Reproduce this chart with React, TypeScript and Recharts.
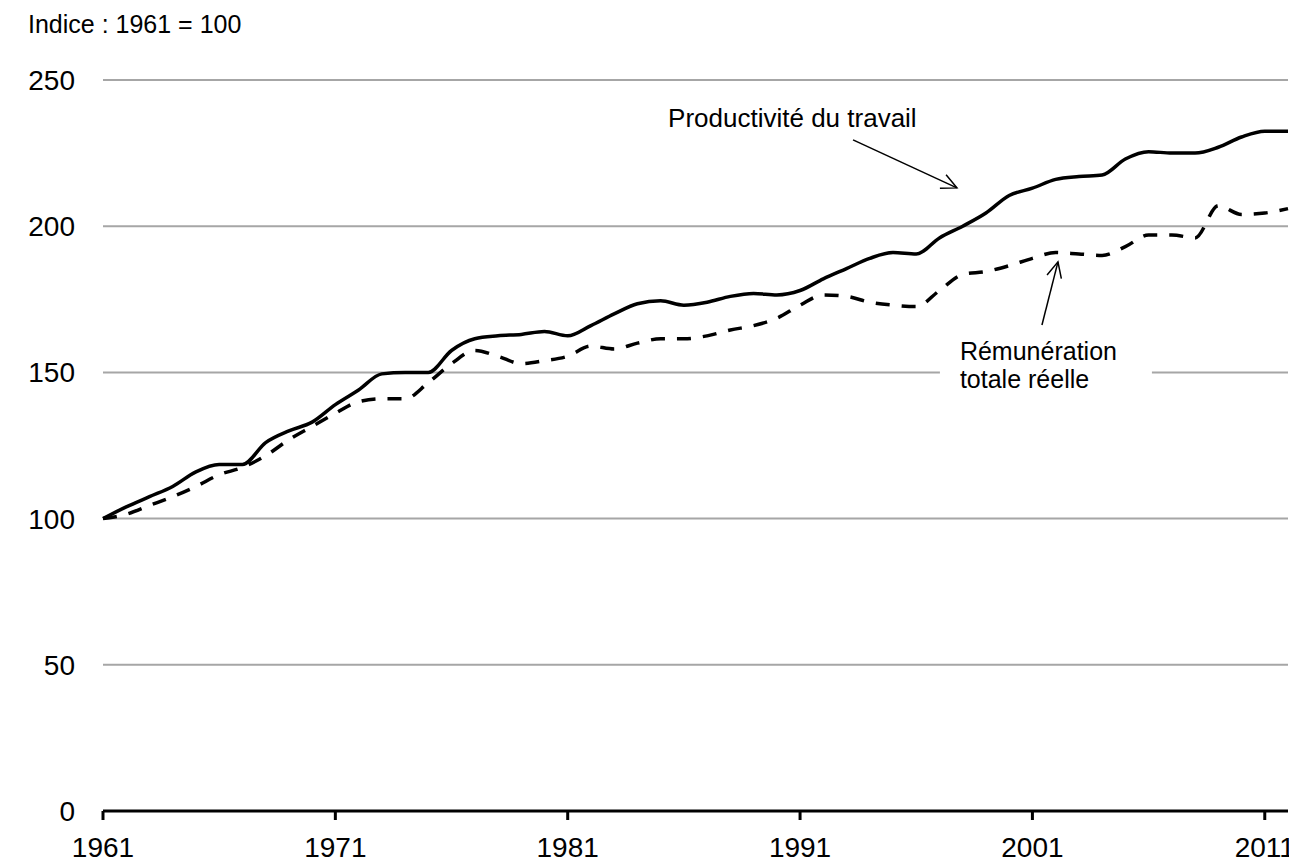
import { CartesianGrid, Line, LineChart, ReferenceDot, ReferenceLine, XAxis, YAxis } from "recharts";

const years = Array.from({ length: 52 }, (_, i) => 1961 + i);

const productivite = [
  100, 104, 107.5, 111, 116, 118.5, 118.5, 126, 130, 133,
  139, 144, 149.5, 150, 150, 157.5, 161.5, 162.5, 163, 164,
  162.5, 166, 170, 173.5, 174.5, 173, 174, 176, 177, 176.5,
  178, 182, 185.5, 189, 191, 190.5, 196, 200, 204.5, 210.5,
  213, 216, 217, 217.5, 223, 225.5, 225, 225, 227, 230.5,
  232.5, 232.5,
];

const remuneration = [
  100, 101.5, 104.5, 107.5, 111, 115, 117.5, 121.5, 127, 131.5,
  136, 140, 141, 141, 146.5, 153, 157.5, 155.5, 153, 154,
  155.5, 159, 158, 160, 161.5, 161.5, 162.5, 164.5, 166, 168.5,
  173, 176.5, 176, 174, 173, 172.5, 178, 183.5, 184.5, 186.5,
  189, 191, 190.5, 190, 193, 197, 197, 196, 207, 204,
  204.5, 206,
];

const xTicks = [1961, 1971, 1981, 1991, 2001, 2011];
const yTicks = [0, 50, 100, 150, 200, 250];

const data = years.map((year, i) => ({
  year,
  productivite: productivite[i],
  remuneration: remuneration[i],
}));

const FONT = "'Liberation Sans', Arial, sans-serif";

type LineShapeProps = { x1?: number; y1?: number; x2?: number; y2?: number };

function Arrow(props: LineShapeProps) {
  const { x1 = 0, y1 = 0, x2 = 0, y2 = 0 } = props;
  const angle = Math.atan2(y2 - y1, x2 - x1);
  const head = 17;
  const spread = Math.PI / 7;
  const a1 = angle + Math.PI - spread;
  const a2 = angle + Math.PI + spread;
  return (
    <g>
      <line x1={x1} y1={y1} x2={x2} y2={y2} stroke="#000" strokeWidth={1.5} />
      <polyline
        points={`${x2 + head * Math.cos(a1)},${y2 + head * Math.sin(a1)} ${x2},${y2} ${x2 + head * Math.cos(a2)},${y2 + head * Math.sin(a2)}`}
        fill="none"
        stroke="#000"
        strokeWidth={1.5}
      />
    </g>
  );
}

type DotShapeProps = { cx?: number; cy?: number };

function ProductiviteLabel({ cx = 0, cy = 0 }: DotShapeProps) {
  return (
    <text x={cx} y={cy} fontSize={26} fill="#000" fontFamily={FONT}>
      Productivité du travail
    </text>
  );
}

function RemunerationLabel({ cx = 0, cy = 0 }: DotShapeProps) {
  return (
    <g>
      <rect x={cx - 20} y={cy - 25} width={212} height={62} fill="#fff" />
      <text x={cx} y={cy} fontSize={25} fill="#000" fontFamily={FONT}>
        Rémunération
      </text>
      <text x={cx} y={cy + 28} fontSize={25} fill="#000" fontFamily={FONT}>
        totale réelle
      </text>
    </g>
  );
}

export default function App() {
  return (
    <div style={{ position: "relative", width: 1289, height: 855, fontFamily: FONT }}>
      <div
        style={{
          position: "absolute",
          left: 20,
          top: 4,
          fontSize: 25,
          lineHeight: 1,
          color: "#000",
          whiteSpace: "nowrap",
        }}
      >
        Indice : 1961 = 100
      </div>
      <LineChart width={1289} height={855} data={data} margin={{ top: 72, right: 9, left: 0, bottom: 0 }}>
        <CartesianGrid vertical={false} stroke="#a6a6a6" strokeWidth={2} />
        <XAxis
          dataKey="year"
          type="number"
          domain={[1961, 2012]}
          ticks={xTicks}
          interval={0}
          height={52}
          axisLine={{ stroke: "#000", strokeWidth: 3 }}
          tickLine={{ stroke: "#000", strokeWidth: 3 }}
          tickSize={9}
          tickMargin={17}
          tick={{ fill: "#000", fontSize: 28, fontFamily: FONT }}
        />
        <YAxis
          domain={[0, 250]}
          ticks={yTicks}
          interval={0}
          width={95}
          axisLine={false}
          tickLine={false}
          tickSize={0}
          tickMargin={28}
          tick={{ fill: "#000", fontSize: 28, fontFamily: FONT }}
        />
        <Line
          type="monotone"
          dataKey="remuneration"
          stroke="#000"
          strokeWidth={3.5}
          strokeDasharray="14 12"
          dot={false}
          isAnimationActive={false}
        />
        <Line
          type="monotone"
          dataKey="productivite"
          stroke="#000"
          strokeWidth={3.5}
          dot={false}
          isAnimationActive={false}
        />
        <ReferenceLine
          segment={[
            { x: 1993.28, y: 229.5 },
            { x: 1997.75, y: 213.1 },
          ]}
          shape={(p: LineShapeProps) => <Arrow {...p} />}
        />
        <ReferenceLine
          segment={[
            { x: 2001.41, y: 166.2 },
            { x: 2002.1, y: 187.8 },
          ]}
          shape={(p: LineShapeProps) => <Arrow {...p} />}
        />
        <ReferenceDot x={1985.32} y={233.9} r={0} shape={(p: DotShapeProps) => <ProductiviteLabel {...p} />} />
        <ReferenceDot x={1997.88} y={154.2} r={0} shape={(p: DotShapeProps) => <RemunerationLabel {...p} />} />
      </LineChart>
    </div>
  );
}
